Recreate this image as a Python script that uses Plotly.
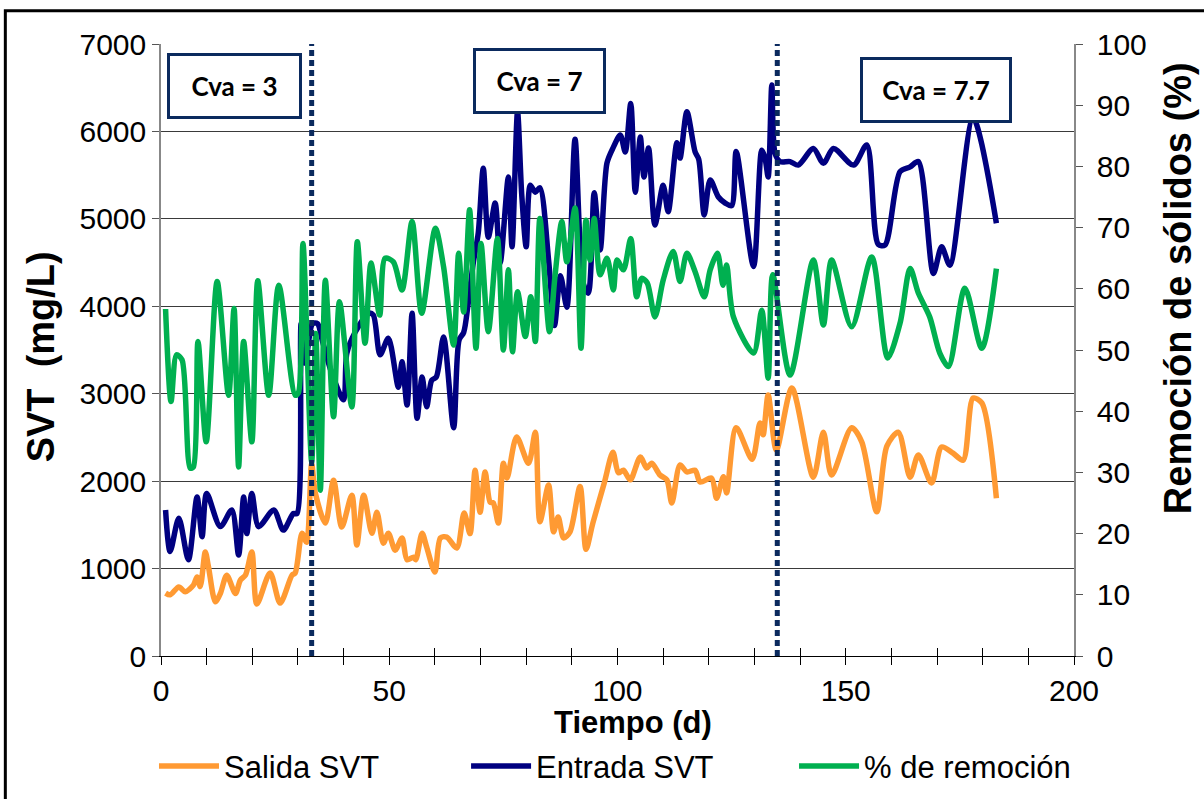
import plotly.graph_objects as go

# ---------------- data ----------------
salida_dias = [1, 2, 3.9, 5.3, 7.1, 7.9, 8.6, 9.7, 10.4, 11.9, 13, 14.4, 16.3, 17.4, 18.5, 19.9, 21, 23.9,
               26.1, 28.7, 29.4, 30.9, 31.9, 33, 33.8, 36, 37.8, 39.6, 41.8, 42.9, 44.4, 46.2, 47.3, 48.7,
               49.8, 51.3, 52.8, 53.9, 55.3, 55.8, 57.2, 58.2, 60, 61.2, 62.6, 64.8, 66.4, 67.7, 68.8,
               69.9, 71, 72.1, 72.8, 73.9, 75, 75.8, 77.9, 80.5, 82, 83, 84.9, 86, 87, 88.2, 89.6, 91.8,
               93.1, 94.6, 97.1, 99, 100.2, 101.3, 102.8, 105, 106.4, 107.5, 109.3, 110.8, 111.9, 113.7,
               115.2, 117, 118.1, 120.6, 121.7, 123.2, 123.9, 126, 129.5, 131.2, 131.9, 133, 134.8, 138.2,
               142.9, 145.1, 146.9, 151.3, 153.5, 156.8, 159, 161.5, 164.1, 165.9, 168.8, 171, 173.5,
               175.7, 177.9, 179.8, 183]
salida_svt = [720, 700, 790, 735, 810, 905, 795, 1190, 1020, 620, 715, 925, 715, 870, 925, 1190, 595, 950,
              605, 925, 950, 1405, 1300, 2200, 1865, 1520, 2010, 1475, 1840, 1270, 1840, 1405, 1645, 1290,
              1405, 1210, 1350, 1100, 1130, 1100, 1405, 1245, 960, 1350, 1360, 1235, 1635, 1400, 2125,
              1645, 2105, 1760, 1750, 1520, 2205, 2035, 2505, 2205, 2560, 1535, 1955, 1420, 1590, 1350,
              1420, 1940, 1220, 1520, 1980, 2330, 2095, 2125, 2015, 2275, 2150, 2205, 2070, 2015, 1750,
              2185, 2105, 2125, 1990, 2035, 1805, 2050, 1865, 2610, 2250, 2665, 2530, 2985, 2355, 3065,
              2045, 2560, 2070, 2610, 2450, 1650, 2400, 2560, 2045, 2300, 1980, 2390, 2320, 2240, 2950,
              2895, 1805]

entrada_dias = [1, 2, 3.9, 6, 7.9, 9, 10, 13, 15.5, 17, 18.1, 18.8, 19.9, 21.4, 24.7, 26.8, 29, 29.8, 30.7,
                31.6, 33.2, 34.3, 35.3, 37.4, 40, 40.7, 42.5, 45.5, 46.5, 48, 49.8, 52, 52.8, 53.9, 55,
                56.1, 57.2, 58.2, 59.3, 60.3, 61.9, 64.1, 65.3, 66.3, 67.3, 68.4, 69.5, 70.6, 71.7, 73.2,
                74.3, 76.1, 76.9, 78.1, 79, 80, 80.9, 82, 83, 84.9, 86.2, 87.5, 88.9, 90.7, 92.5, 93.6,
                94.9, 96.2, 97.7, 99.1, 100.6, 101.7, 102.9, 103.9, 105, 105.8, 106.8, 108.2, 110, 111.1,
                113, 113.7, 115.2, 117, 117.8, 119, 120.3, 122.1, 123.6, 125, 126, 129.8, 131.6, 132.3,
                133, 133.8, 134.5, 135.6, 137.8, 139.6, 142.9, 145.1, 147.3, 151.7, 154.6, 157.1, 158.6,
                161.9, 164.1, 165.9, 169.2, 171, 172.8, 177.9, 183]
entrada_svt = [1670, 1195, 1575, 1100, 1820, 1365, 1860, 1480, 1670, 1155, 1820, 1400, 1860, 1480, 1670,
               1440, 1630, 1630, 3800, 3350, 3800, 3800, 3615, 3235, 2930, 3460, 3700, 3920, 3900, 3445,
               3635, 3075, 3365, 2870, 3920, 2720, 3190, 2850, 3155, 3190, 3650, 2610, 3615, 3700, 4035,
               4495, 4840, 5580, 4790, 5180, 4495, 5480, 4680, 6225, 5295, 4680, 5385, 5305, 5355, 4530,
               3780, 4350, 3990, 5910, 4260, 4150, 5300, 4645, 5640, 5820, 5960, 5765, 6320, 5305, 5935,
               5480, 5810, 4930, 5385, 5080, 5870, 5695, 6225, 5765, 5680, 5045, 5445, 5250, 5180, 5150,
               5770, 4455, 5785, 5700, 5480, 6530, 5750, 5655, 5655, 5615, 5805, 5635, 5805, 5615, 5845,
               4710, 4700, 5540, 5595, 5655, 4375, 4680, 4470, 6150, 4950]

remocion_dias = [1, 2.2, 3.4, 4.6, 6.4, 7.1, 8.1, 9.9, 12.3, 14.8, 16, 17, 18.1, 19.9, 21.2, 23.6, 25.8,
                 29.4, 30.1, 31.1, 33, 33.9, 34.9, 36, 37.8, 39.1, 41.8, 43, 44.7, 46, 47.9, 49.1, 50.9,
                 52.8, 55, 57.1, 60.1, 61.9, 64.1, 65.2, 66.3, 67.6, 69, 70.1, 71.7, 73.7, 75, 76.1, 77,
                 78.1, 79.8, 81, 82, 83, 85.1, 86.3, 87.8, 88.9, 90.7, 92, 93.1, 94, 94.9, 96.2, 97.7,
                 99.1, 99.9, 101.3, 102.9, 104.2, 105.3, 106.5, 108.2, 110, 112.2, 113.7, 115.2, 117, 119,
                 120.3, 121.9, 123.1, 123.9, 125.4, 129.8, 131.6, 133, 134, 137.8, 142.9, 145.1, 146.9,
                 151.3, 155.7, 159.2, 161.9, 164.1, 165.9, 168.4, 170.6, 172.5, 176.1, 179.8, 183]
remocion_pct = [56.7, 41.6, 49.2, 48.4, 30.7, 30.9, 51.4, 35.0, 61.2, 42.6, 56.8, 30.9, 51.4, 35.0, 61.3,
                42.6, 60.6, 42.6, 43.0, 67.4, 31.7, 52.7, 27.1, 61.4, 39.1, 57.9, 40.7, 67.7, 51.1, 64.2,
                55.7, 65.0, 64.4, 59.8, 71.0, 56.0, 69.9, 63.6, 50.8, 65.8, 56.2, 72.9, 50.3, 67.4, 53.0,
                68.2, 50.0, 63.1, 49.7, 59.5, 52.2, 58.7, 51.4, 71.5, 53.0, 62.0, 71.0, 64.4, 73.2, 50.3,
                71.2, 64.7, 71.5, 62.3, 65.0, 59.8, 64.7, 63.1, 68.2, 58.7, 61.7, 61.0, 55.4, 61.4, 66.1,
                61.2, 65.8, 62.8, 58.7, 63.1, 65.8, 60.6, 63.9, 55.4, 49.5, 56.5, 45.4, 62.3, 45.9, 64.7,
                54.1, 64.7, 53.8, 65.2, 48.7, 54.4, 63.3, 59.3, 55.4, 49.5, 47.3, 60.1, 50.3, 63.3]

cambio_dias = [33, 135]               # changes of Cva
etiquetas_cva = ["Cva = 3", "Cva = 7", "Cva = 7.7"]
svt_max = 7000

# ---------------- styles ----------------
C_SAL = "#FF9A33"
C_ENT = "#000080"
C_REM = "#00B050"
C_DOT = "#0B2A5E"
FONT = "Liberation Sans"
LW = 5.5

fig = go.Figure()
fig.add_trace(go.Scatter(x=salida_dias, y=salida_svt, name="Salida SVT", mode="lines", legend="legend",
                         line=dict(color=C_SAL, width=LW, shape="spline", smoothing=0.8)))
fig.add_trace(go.Scatter(x=entrada_dias, y=entrada_svt, name="Entrada SVT", mode="lines", legend="legend2",
                         line=dict(color=C_ENT, width=LW, shape="spline", smoothing=0.8)))
fig.add_trace(go.Scatter(x=remocion_dias, y=remocion_pct, name="% de remoción", mode="lines", yaxis="y2",
                         legend="legend3",
                         line=dict(color=C_REM, width=LW, shape="spline", smoothing=0.8)))

# vertical dotted separators (on overlay x axis so its inside ticks render)
vx, vy = [], []
for d in cambio_dias:
    vx += [d, d, None]
    vy += [0, svt_max, None]
fig.add_trace(go.Scatter(x=vx, y=vy, mode="lines", xaxis="x2", showlegend=False, hoverinfo="skip",
                         line=dict(color=C_DOT, width=5, dash="6px,4px")))

shapes = [dict(type="rect", xref="paper", yref="paper", x0=-0.1705, x1=1.25, y0=-0.35, y1=1.0545,
               line=dict(color="black", width=3), fillcolor="rgba(0,0,0,0)", layer="below")]

box_pos = [(0.0808, 0.931, 125), (0.4148, 0.940, 123), (0.8489, 0.9245, 142)]
annotations = []
for txt, (bx, by, bw) in zip(etiquetas_cva, box_pos):
    annotations.append(dict(text="<b>%s</b>" % txt, xref="paper", yref="paper", x=bx, y=by,
                            xanchor="center", yanchor="middle", showarrow=False,
                            font=dict(family="Lato", size=26, color="black"),
                            bgcolor="white", bordercolor=C_DOT, borderwidth=3, borderpad=2,
                            width=bw, height=56))
# axis titles
annotations.append(dict(text="<b>Tiempo (d)</b>", xref="paper", yref="paper", x=0.517, y=-0.108,
                        xanchor="center", yanchor="middle", showarrow=False,
                        font=dict(family=FONT, size=31, color="black")))
annotations.append(dict(text="<b>SVT  (mg/L)</b>", xref="paper", yref="paper", x=-0.131, y=0.4886,
                        xanchor="center", yanchor="middle", showarrow=False, textangle=-90,
                        font=dict(family=FONT, size=38, color="black")))
annotations.append(dict(text="<b>Remoción de sólidos (%)</b>", xref="paper", yref="paper", x=1.1139,
                        y=0.601, xanchor="center", yanchor="middle", showarrow=False, textangle=-90,
                        font=dict(family=FONT, size=38, color="black")))

leg_common = dict(orientation="h", xref="container", yref="container", y=0.041, xanchor="left",
                  yanchor="middle", font=dict(family=FONT, size=31), itemwidth=60,
                  bgcolor="rgba(0,0,0,0)")

fig.update_layout(
    width=1204, height=799,
    margin=dict(l=161, r=130, t=44, b=143, autoexpand=False),
    paper_bgcolor="white", plot_bgcolor="white",
    font=dict(family=FONT, size=30, color="black"),
    showlegend=True,
    legend=dict(x=0.1279, **leg_common),
    legend2=dict(x=0.3871, **leg_common),
    legend3=dict(x=0.6595, **leg_common),
    xaxis=dict(range=[0, 200], dtick=50, tick0=0, ticks="outside", ticklen=8, tickwidth=1,
               tickcolor="black", showline=True, linecolor="black", linewidth=1,
               showgrid=False, zeroline=False, automargin=False,
               minor=dict(dtick=10, ticks="outside", ticklen=8, tickcolor="black", showgrid=False),
               tickfont=dict(size=30)),
    xaxis2=dict(range=[0, 200], overlaying="x", anchor="y", side="bottom", dtick=50, tick0=0,
                ticks="inside", ticklen=8, tickcolor="black", showticklabels=False,
                showline=False, showgrid=False, zeroline=False,
                minor=dict(dtick=10, ticks="inside", ticklen=8, tickcolor="black", showgrid=False)),
    yaxis=dict(range=[0, svt_max], dtick=1000, ticks="outside", ticklen=7, tickcolor="#555555",
               showline=True, linecolor="#888888", linewidth=1.5, automargin=False,
               showgrid=True, gridcolor="#3a3a3a", gridwidth=1, zeroline=False,
               tickfont=dict(size=30)),
    yaxis2=dict(range=[0, 100], dtick=10, overlaying="y", side="right", ticks="outside", ticklen=7,
                tickcolor="#555555", showline=True, linecolor="#888888", linewidth=1.5,
                showgrid=False, zeroline=False, tickfont=dict(size=30), ticklabelstandoff=8,
                automargin=False),
    annotations=annotations,
    shapes=shapes,
)

fig.write_html("out.html")
